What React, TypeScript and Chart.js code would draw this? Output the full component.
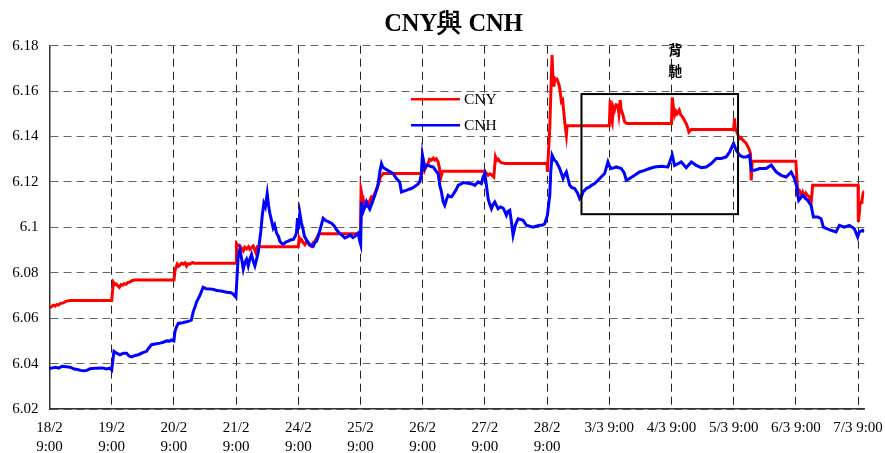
import React, { useEffect, useRef } from "react";
import { Chart, registerables } from "chart.js";

Chart.register(...registerables);

const xTickLabels: (string | string[])[] = [
  ["18/2", "9:00"], ["19/2", "9:00"], ["20/2", "9:00"], ["21/2", "9:00"],
  ["24/2", "9:00"], ["25/2", "9:00"], ["26/2", "9:00"], ["27/2", "9:00"],
  ["28/2", "9:00"], "3/3 9:00", "4/3 9:00", "5/3 9:00", "6/3 9:00", "7/3 9:00",
];
const yTickValues = [6.02, 6.04, 6.06, 6.08, 6.1, 6.12, 6.14, 6.16, 6.18];
const yTickLabels = ["6.02", "6.04", "6.06", "6.08", "6.1", "6.12", "6.14", "6.16", "6.18"];

const cnyX = [
  0.008, 0.035, 0.062, 0.09, 0.115, 0.145, 0.169, 0.222, 0.25, 0.276, 0.33, 1.0,
  1.026, 1.05, 1.069, 1.1, 1.122, 1.15, 1.175, 1.2, 1.23, 1.26, 1.283, 1.326, 1.36, 2.0,
  2.022, 2.04, 2.054, 2.075, 2.097, 2.125, 2.15, 2.18, 2.204, 2.23, 2.257, 2.3, 2.33, 3.0,
  3.007, 3.035, 3.061, 3.09, 3.115, 3.14, 3.168, 3.2, 3.222, 3.25, 3.275, 3.3, 3.318, 3.34, 4.0,
  4.014, 4.035, 4.052, 4.08, 4.105, 4.13, 4.159, 4.185, 4.212, 4.24, 4.266, 4.3, 4.32, 4.35, 5.0,
  5.009, 5.025, 5.04, 5.07, 5.096, 5.12, 5.139, 5.16, 5.176, 5.2, 5.23, 5.255, 5.28, 5.3, 5.32, 5.364, 5.985,
  5.996, 6.015, 6.033, 6.06, 6.087, 6.11, 6.14, 6.17, 6.194, 6.22, 6.248, 6.27, 6.286, 6.318, 7.0,
  7.025, 7.052, 7.08, 7.105, 7.143, 7.17, 7.19, 7.212, 7.24, 7.266, 7.32, 8.0,
  8.005, 8.02, 8.043, 8.064, 8.08, 8.096, 8.11, 8.123, 8.14, 8.16, 8.193, 8.21, 8.23, 8.25, 8.268, 8.289, 8.31, 8.322, 9.0,
  9.015, 9.03, 9.047, 9.065, 9.085, 9.11, 9.138, 9.155, 9.176, 9.19, 9.208, 9.225, 9.245, 9.283, 10.0,
  10.012, 10.03, 10.05, 10.07, 10.09, 10.125, 10.15, 10.18, 10.2, 10.237, 10.26, 10.28, 10.318, 11.0,
  11.014, 11.025, 11.04, 11.065, 11.094, 11.12, 11.148, 11.175, 11.2, 11.244, 11.27, 11.282, 11.298, 12.0,
  12.03, 12.06, 12.09, 12.11, 12.14, 12.163, 12.19, 12.217, 12.244, 12.27, 13.0,
  13.004, 13.02, 13.031, 13.05, 13.063, 13.08, 13.1,
];
const cnyY = [
  6.0645, 6.0652, 6.0657, 6.0653, 6.066, 6.0658, 6.0664, 6.0667, 6.0672, 6.0675, 6.0678, 6.0678,
  6.0758, 6.0748, 6.0751, 6.0742, 6.0736, 6.0748, 6.0745, 6.0752, 6.0749, 6.0757, 6.0758, 6.0765, 6.0768, 6.0768,
  6.0816, 6.0828, 6.0838, 6.0829, 6.0834, 6.0842, 6.0838, 6.0844, 6.083, 6.084, 6.0838, 6.0845, 6.0842, 6.0842,
  6.0929, 6.0921, 6.0917, 6.0908, 6.0896, 6.0912, 6.0905, 6.0915, 6.0903, 6.0912, 6.0918, 6.09, 6.0888, 6.0915, 6.0915,
  6.0953, 6.094, 6.0945, 6.0932, 6.0924, 6.0935, 6.093, 6.092, 6.0916, 6.0932, 6.0938, 6.0955, 6.0967, 6.0972, 6.0972,
  6.1163, 6.114, 6.1126, 6.1108, 6.1097, 6.111, 6.1105, 6.1125, 6.1134, 6.1128, 6.1149, 6.1165, 6.1185, 6.12, 6.1222, 6.1237, 6.1237,
  6.131, 6.129, 6.1255, 6.1275, 6.1281, 6.13, 6.1296, 6.1305, 6.1296, 6.1302, 6.1288, 6.126, 6.1215, 6.1247, 6.1247,
  6.1238, 6.1229, 6.1236, 6.1232, 6.1222, 6.131, 6.1295, 6.13, 6.129, 6.1285, 6.1281, 6.1281,
  6.1244, 6.1318, 6.1435, 6.1626, 6.1759, 6.1641, 6.162, 6.1656, 6.165, 6.1652, 6.1626, 6.16, 6.1553, 6.156, 6.1509, 6.145, 6.1406, 6.1447, 6.1447,
  6.156, 6.148, 6.1462, 6.153, 6.1516, 6.154, 6.1538, 6.15, 6.156, 6.152, 6.1505, 6.149, 6.1465, 6.1457, 6.1457,
  6.1572, 6.153, 6.1494, 6.151, 6.15, 6.1516, 6.1495, 6.1486, 6.1475, 6.1457, 6.144, 6.142, 6.1431, 6.1431,
  6.148, 6.144, 6.1428, 6.141, 6.1391, 6.1395, 6.1384, 6.1378, 6.137, 6.1347, 6.1325, 6.1207, 6.1291, 6.1291,
  6.1149, 6.116, 6.114, 6.1155, 6.1135, 6.115, 6.114, 6.1134, 6.1104, 6.1185, 6.1185,
  6.1024, 6.106, 6.11, 6.111, 6.1119, 6.115, 6.116,
];

const cnhX = [
  0.0, 0.05, 0.1, 0.15, 0.2, 0.27, 0.33, 0.4, 0.45, 0.5, 0.55, 0.6, 0.65, 0.75, 0.85, 0.92, 0.97, 1.0,
  1.036, 1.08, 1.133, 1.19, 1.24, 1.28, 1.32, 1.38, 1.43, 1.5, 1.56, 1.6, 1.64, 1.7, 1.776, 1.83, 1.88, 1.93, 1.96, 2.0,
  2.017, 2.04, 2.07, 2.14, 2.204, 2.25, 2.28, 2.31, 2.34, 2.364, 2.39, 2.418, 2.47, 2.52, 2.58, 2.64, 2.69, 2.76, 2.85, 2.92, 2.95, 2.997,
  3.034, 3.06, 3.09, 3.115, 3.14, 3.168, 3.195, 3.22, 3.248, 3.275, 3.302, 3.33, 3.355, 3.398, 3.42, 3.446, 3.47, 3.5, 3.52, 3.543,
  3.57, 3.597, 3.62, 3.65, 3.68, 3.704, 3.73, 3.757, 3.8, 3.837, 3.88, 3.918, 3.95, 3.97, 3.987, 4.0,
  4.025, 4.05, 4.078, 4.1, 4.132, 4.18, 4.239, 4.27, 4.293, 4.32, 4.35, 4.38, 4.4, 4.44, 4.48, 4.535, 4.58, 4.615, 4.66, 4.695,
  4.75, 4.8, 4.83, 4.88, 4.91, 4.962, 4.99, 5.003,
  5.015, 5.04, 5.07, 5.096, 5.12, 5.149, 5.19, 5.23, 5.28, 5.31, 5.337, 5.36, 5.39, 5.44, 5.48, 5.524, 5.577, 5.63, 5.658, 5.7,
  5.738, 5.78, 5.818, 5.86, 5.899, 5.93, 5.952, 5.98,
  5.996, 6.033, 6.06, 6.087, 6.13, 6.168, 6.21, 6.248, 6.275, 6.302, 6.329, 6.355, 6.38, 6.409, 6.44, 6.462, 6.49, 6.516, 6.545,
  6.57, 6.61, 6.65, 6.7, 6.757, 6.8, 6.837, 6.891, 6.944, 6.971, 6.998,
  7.025, 7.052, 7.08, 7.105, 7.13, 7.159, 7.19, 7.212, 7.25, 7.293, 7.32, 7.346, 7.37, 7.4, 7.427, 7.453, 7.49, 7.534, 7.57, 7.614,
  7.668, 7.72, 7.775, 7.82, 7.882, 7.93, 7.962,
  8.005, 8.025, 8.043, 8.06, 8.08, 8.12, 8.15, 8.203, 8.257, 8.28, 8.31, 8.34, 8.364, 8.4, 8.444, 8.49, 8.525, 8.55, 8.578, 8.632,
  8.684, 8.712, 8.765, 8.792, 8.845, 8.925, 8.978,
  9.0, 9.032, 9.07, 9.112, 9.192, 9.24, 9.273, 9.326, 9.407, 9.487, 9.568, 9.648, 9.728, 9.835, 9.942,
  10.012, 10.05, 10.157, 10.237, 10.318, 10.398, 10.479, 10.559, 10.64, 10.72, 10.8, 10.88, 10.934, 10.998,
  11.04, 11.094, 11.148, 11.2, 11.255, 11.282, 11.335, 11.415, 11.522, 11.603, 11.683, 11.763, 11.844, 11.924, 11.977,
  12.014, 12.046, 12.11, 12.19, 12.244, 12.281, 12.351, 12.405, 12.442, 12.496, 12.565, 12.645, 12.699, 12.779, 12.86, 12.94,
  12.994, 13.02, 13.074, 13.1,
];
const cnhY = [
  6.0378, 6.0381, 6.0384, 6.038, 6.0388, 6.0386, 6.0384, 6.0376, 6.0374, 6.037, 6.0368, 6.037, 6.0377, 6.038, 6.0381, 6.0376, 6.038, 6.0372,
  6.0454, 6.0446, 6.0439, 6.0446, 6.0446, 6.0433, 6.0429, 6.0436, 6.0439, 6.0448, 6.0454, 6.047, 6.0483, 6.0486, 6.049, 6.0494, 6.05, 6.0499, 6.0504, 6.05,
  6.0541, 6.056, 6.0577, 6.058, 6.0584, 6.0588, 6.0591, 6.0628, 6.065, 6.0671, 6.0685, 6.07, 6.0736, 6.073, 6.0729, 6.0726, 6.0722, 6.072, 6.0714, 6.0712, 6.0707, 6.0693,
  6.0874, 6.0903, 6.086, 6.0816, 6.0845, 6.0859, 6.083, 6.086, 6.0881, 6.085, 6.083, 6.086, 6.0888, 6.0983, 6.105, 6.1106, 6.109, 6.1149, 6.11, 6.1062,
  6.103, 6.0997, 6.101, 6.0975, 6.096, 6.0939, 6.093, 6.0925, 6.0935, 6.0939, 6.0945, 6.0946, 6.096, 6.0975, 6.1041, 6.099,
  6.1062, 6.102, 6.0989, 6.096, 6.0945, 6.0925, 6.0916, 6.0935, 6.0938, 6.096, 6.0989, 6.102, 6.104, 6.103, 6.1025, 6.1018, 6.1005, 6.0989, 6.0975, 6.0967,
  6.0953, 6.096, 6.0967, 6.0955, 6.096, 6.0975, 6.0938, 6.0925,
  6.1112, 6.1068, 6.109, 6.1112, 6.1095, 6.108, 6.111, 6.1141, 6.1185, 6.1244, 6.1281, 6.1265, 6.1259, 6.1251, 6.1245, 6.1237, 6.1215, 6.12, 6.1156, 6.116,
  6.1163, 6.1168, 6.1171, 6.1178, 6.1185, 6.1192, 6.12, 6.1237,
  6.1318, 6.1259, 6.127, 6.1274, 6.1268, 6.1266, 6.125, 6.1237, 6.1185, 6.1156, 6.1112, 6.1097, 6.112, 6.1141, 6.1135, 6.1134, 6.1145, 6.1156, 6.117,
  6.1185, 6.119, 6.1197, 6.1195, 6.1193, 6.119, 6.1185, 6.12, 6.1193, 6.1222, 6.1237,
  6.1185, 6.1126, 6.11, 6.1082, 6.11, 6.1112, 6.1095, 6.1082, 6.109, 6.1085, 6.107, 6.1053, 6.107, 6.1075, 6.1024, 6.0965, 6.101, 6.1038, 6.1035, 6.1031,
  6.1009, 6.1005, 6.1001, 6.1005, 6.1009, 6.101, 6.1016,
  6.1053, 6.11, 6.1141, 6.125, 6.1318, 6.1295, 6.1288, 6.1259, 6.1215, 6.123, 6.1244, 6.121, 6.1185, 6.1175, 6.1171, 6.115, 6.1126, 6.1135, 6.1156, 6.1171,
  6.1178, 6.1185, 6.1193, 6.12, 6.1215, 6.1237, 6.1288,
  6.127, 6.1259, 6.1262, 6.1266, 6.1259, 6.124, 6.1207, 6.1215, 6.1229, 6.1244, 6.1251, 6.1259, 6.1266, 6.1269, 6.1266,
  6.1318, 6.1272, 6.1288, 6.1263, 6.1288, 6.1273, 6.1263, 6.1266, 6.1281, 6.1303, 6.1303, 6.131, 6.1332, 6.1369,
  6.134, 6.1318, 6.131, 6.131, 6.1318, 6.1251, 6.1251, 6.1259, 6.1259, 6.1274, 6.1244, 6.1229, 6.1222, 6.1244, 6.1215,
  6.1178, 6.1119, 6.1141, 6.1119, 6.1097, 6.1046, 6.1046, 6.1038, 6.1001, 6.0994, 6.0987, 6.098, 6.1009, 6.1001, 6.1009, 6.0994,
  6.0957, 6.098, 6.0987, 6.098,
];

// annotation box (divergence) in data units
const boxX = [8.553, 11.07];
const boxY = [6.1058, 6.1587];
const noteText = ["背", "馳"];
const noteX = 10.06;
const noteY = [6.1781, 6.169];

const SERIF = '"Liberation Serif", "Times New Roman", serif';

const overlay = {
  id: "overlay",
  afterDatasetsDraw(chart: any) {
    const { ctx, scales } = chart;
    const xs = scales.x;
    const ys = scales.y;
    ctx.save();
    ctx.strokeStyle = "#000";
    ctx.lineWidth = 2;
    const x1 = xs.getPixelForValue(boxX[0]);
    const x2 = xs.getPixelForValue(boxX[1]);
    const y1 = ys.getPixelForValue(boxY[1]);
    const y2 = ys.getPixelForValue(boxY[0]);
    ctx.strokeRect(x1, y1, x2 - x1, y2 - y1);
    ctx.fillStyle = "#000";
    ctx.font = 'bold 14px "Noto Sans CJK TC", sans-serif';
    ctx.textAlign = "center";
    ctx.textBaseline = "middle";
    noteText.forEach((t, i) => {
      ctx.fillText(t, xs.getPixelForValue(noteX), ys.getPixelForValue(noteY[i]));
    });
    ctx.restore();
  },
  afterDraw(chart: any) {
    const { ctx } = chart;
    ctx.save();
    ctx.fillStyle = "#000";
    ctx.font = `bold 24.5px ${SERIF}`;
    ctx.textAlign = "center";
    ctx.textBaseline = "middle";
    ctx.fillText("CNY與 CNH", 453.5, 25);
    const items = [
      { label: "CNY", color: "#ff0000", y: 99.3 },
      { label: "CNH", color: "#0000ff", y: 125.3 },
    ];
    ctx.font = `15.5px ${SERIF}`;
    ctx.textAlign = "left";
    items.forEach((it) => {
      ctx.strokeStyle = it.color;
      ctx.lineWidth = 2.5;
      ctx.beginPath();
      ctx.moveTo(411, it.y);
      ctx.lineTo(460, it.y);
      ctx.stroke();
      ctx.fillStyle = "#000";
      ctx.fillText(it.label, 464, it.y + 0.5);
    });
    ctx.restore();
  },
};

export default function App() {
  const ref = useRef<HTMLCanvasElement>(null);
  useEffect(() => {
    if (!ref.current) return;
    const cny = cnyX.map((x, i) => ({ x, y: cnyY[i] }));
    const cnh = cnhX.map((x, i) => ({ x, y: cnhY[i] }));
    const chart = new Chart(ref.current, {
      type: "line",
      data: {
        datasets: [
          { label: "CNY", data: cny, borderColor: "#ff0000", backgroundColor: "#ff0000", borderWidth: 3, pointRadius: 0, tension: 0, order: 2 },
          { label: "CNH", data: cnh, borderColor: "#0000ff", backgroundColor: "#0000ff", borderWidth: 3, pointRadius: 0, tension: 0, order: 1 },
        ],
      },
      options: {
        responsive: false,
        animation: false,
        devicePixelRatio: 1,
        parsing: false as any,
        normalized: true,
        layout: { padding: { top: 45.7, right: 20.7, left: 0, bottom: 0 } },
        plugins: {
          legend: { display: false },
          title: { display: false },
          tooltip: { enabled: false },
        },
        scales: {
          x: {
            type: "linear",
            min: 0,
            max: 13.1,
            afterBuildTicks: (s: any) => {
              s.ticks = xTickLabels.map((_, i) => ({ value: i }));
            },
            afterFit: (s: any) => {
              s.height = 44;
              s.paddingLeft = 0;
              s.paddingRight = 0;
            },
            ticks: {
              autoSkip: false,
              maxRotation: 0,
              minRotation: 0,
              padding: 10,
              color: "#000",
              font: { family: SERIF, size: 15, lineHeight: 1.25 },
              callback: (_v: any, i: number) => xTickLabels[i],
            },
            grid: { color: "#222", lineWidth: 1, drawTicks: false },
            border: { display: true, color: "#333", width: 1.5, dash: [8, 5] },
          },
          y: {
            type: "linear",
            min: 6.02,
            max: 6.18,
            afterBuildTicks: (s: any) => {
              s.ticks = yTickValues.map((v) => ({ value: v }));
            },
            afterFit: (s: any) => {
              s.width = 49.5;
              s.paddingTop = 0;
              s.paddingBottom = 0;
            },
            ticks: {
              padding: 11,
              color: "#000",
              font: { family: SERIF, size: 15 },
              callback: (_v: any, i: number) => yTickLabels[i],
            },
            grid: { color: "#666", lineWidth: 1, drawTicks: false },
            border: { display: true, color: "#333", width: 1.5, dash: [8, 5] },
          },
        },
      },
      plugins: [overlay],
    });
    return () => chart.destroy();
  }, []);
  return (
    <div style={{ position: "absolute", left: 0, top: 0, width: 885, height: 453, background: "#fff" }}>
      <canvas ref={ref} width={885} height={453} />
    </div>
  );
}
